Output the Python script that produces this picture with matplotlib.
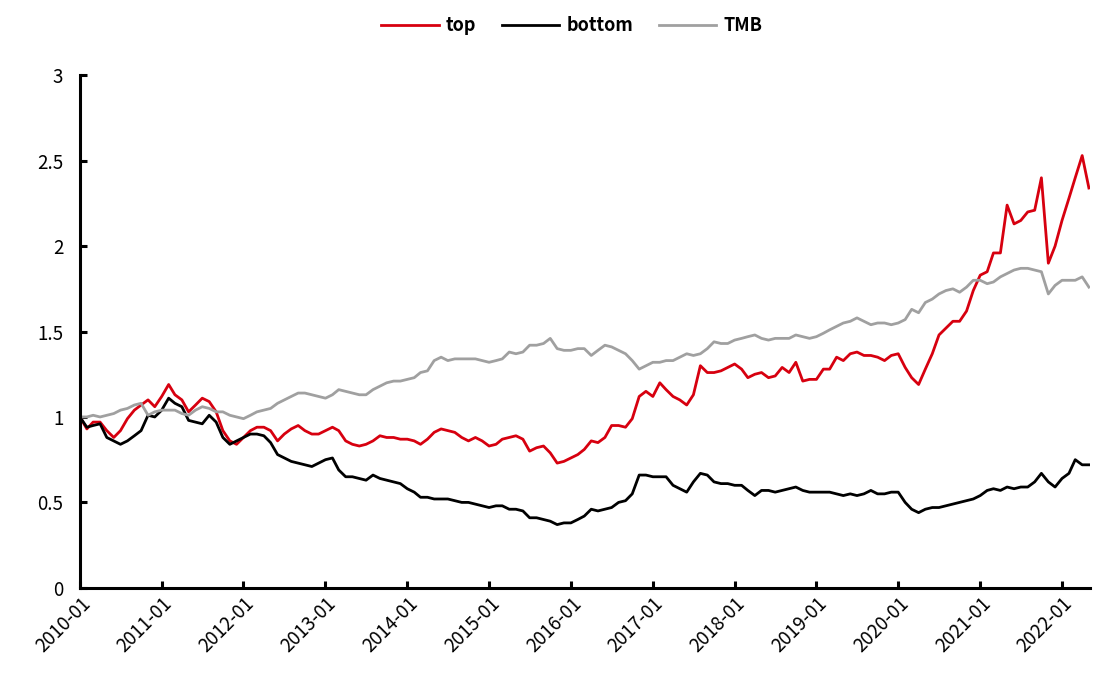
import matplotlib
matplotlib.use("Agg")
import matplotlib.pyplot as plt
import matplotlib.dates as mdates
import pandas as pd

plt.rcParams['font.family'] = ['Noto Sans CJK SC', 'DejaVu Sans']

dates = pd.date_range('2010-01-01', periods=149, freq='MS')

top = [1.00, 0.93, 0.97, 0.97, 0.92, 0.88, 0.92, 0.99, 1.04, 1.07,
       1.10, 1.06, 1.12, 1.19, 1.13, 1.10, 1.03, 1.07, 1.11, 1.09,
       1.03, 0.92, 0.86, 0.84, 0.88, 0.92, 0.94, 0.94, 0.92, 0.86,
       0.90, 0.93, 0.95, 0.92, 0.90, 0.90, 0.92, 0.94, 0.92, 0.86,
       0.84, 0.83, 0.84, 0.86, 0.89, 0.88, 0.88, 0.87, 0.87, 0.86,
       0.84, 0.87, 0.91, 0.93, 0.92, 0.91, 0.88, 0.86, 0.88, 0.86,
       0.83, 0.84, 0.87, 0.88, 0.89, 0.87, 0.80, 0.82, 0.83, 0.79,
       0.73, 0.74, 0.76, 0.78, 0.81, 0.86, 0.85, 0.88, 0.95, 0.95,
       0.94, 0.99, 1.12, 1.15, 1.12, 1.20, 1.16, 1.12, 1.10, 1.07,
       1.13, 1.30, 1.26, 1.26, 1.27, 1.29, 1.31, 1.28, 1.23, 1.25,
       1.26, 1.23, 1.24, 1.29, 1.26, 1.32, 1.21, 1.22, 1.22, 1.28,
       1.28, 1.35, 1.33, 1.37, 1.38, 1.36, 1.36, 1.35, 1.33, 1.36,
       1.37, 1.29, 1.23, 1.19, 1.28, 1.37, 1.48, 1.52, 1.56, 1.56,
       1.62, 1.74, 1.83, 1.85, 1.96, 1.96, 2.24, 2.13, 2.15, 2.20,
       2.21, 2.40, 1.90, 2.00, 2.15, 2.28, 2.40, 2.53, 2.34]

bottom = [1.00, 0.94, 0.95, 0.96, 0.88, 0.86, 0.84, 0.86, 0.89, 0.92,
          1.01, 1.00, 1.04, 1.11, 1.08, 1.06, 0.98, 0.97, 0.96, 1.01,
          0.97, 0.88, 0.84, 0.86, 0.88, 0.90, 0.90, 0.89, 0.85, 0.78,
          0.76, 0.74, 0.73, 0.72, 0.71, 0.73, 0.75, 0.76, 0.69, 0.65,
          0.65, 0.64, 0.63, 0.66, 0.64, 0.63, 0.62, 0.61, 0.58, 0.56,
          0.53, 0.53, 0.52, 0.52, 0.52, 0.51, 0.50, 0.50, 0.49, 0.48,
          0.47, 0.48, 0.48, 0.46, 0.46, 0.45, 0.41, 0.41, 0.40, 0.39,
          0.37, 0.38, 0.38, 0.40, 0.42, 0.46, 0.45, 0.46, 0.47, 0.50,
          0.51, 0.55, 0.66, 0.66, 0.65, 0.65, 0.65, 0.60, 0.58, 0.56,
          0.62, 0.67, 0.66, 0.62, 0.61, 0.61, 0.60, 0.60, 0.57, 0.54,
          0.57, 0.57, 0.56, 0.57, 0.58, 0.59, 0.57, 0.56, 0.56, 0.56,
          0.56, 0.55, 0.54, 0.55, 0.54, 0.55, 0.57, 0.55, 0.55, 0.56,
          0.56, 0.50, 0.46, 0.44, 0.46, 0.47, 0.47, 0.48, 0.49, 0.50,
          0.51, 0.52, 0.54, 0.57, 0.58, 0.57, 0.59, 0.58, 0.59, 0.59,
          0.62, 0.67, 0.62, 0.59, 0.64, 0.67, 0.75, 0.72, 0.72]

tmb = [1.00, 1.00, 1.01, 1.00, 1.01, 1.02, 1.04, 1.05, 1.07, 1.08,
       1.01, 1.03, 1.04, 1.04, 1.04, 1.02, 1.01, 1.04, 1.06, 1.05,
       1.03, 1.03, 1.01, 1.00, 0.99, 1.01, 1.03, 1.04, 1.05, 1.08,
       1.10, 1.12, 1.14, 1.14, 1.13, 1.12, 1.11, 1.13, 1.16, 1.15,
       1.14, 1.13, 1.13, 1.16, 1.18, 1.20, 1.21, 1.21, 1.22, 1.23,
       1.26, 1.27, 1.33, 1.35, 1.33, 1.34, 1.34, 1.34, 1.34, 1.33,
       1.32, 1.33, 1.34, 1.38, 1.37, 1.38, 1.42, 1.42, 1.43, 1.46,
       1.40, 1.39, 1.39, 1.40, 1.40, 1.36, 1.39, 1.42, 1.41, 1.39,
       1.37, 1.33, 1.28, 1.30, 1.32, 1.32, 1.33, 1.33, 1.35, 1.37,
       1.36, 1.37, 1.40, 1.44, 1.43, 1.43, 1.45, 1.46, 1.47, 1.48,
       1.46, 1.45, 1.46, 1.46, 1.46, 1.48, 1.47, 1.46, 1.47, 1.49,
       1.51, 1.53, 1.55, 1.56, 1.58, 1.56, 1.54, 1.55, 1.55, 1.54,
       1.55, 1.57, 1.63, 1.61, 1.67, 1.69, 1.72, 1.74, 1.75, 1.73,
       1.76, 1.80, 1.80, 1.78, 1.79, 1.82, 1.84, 1.86, 1.87, 1.87,
       1.86, 1.85, 1.72, 1.77, 1.80, 1.80, 1.80, 1.82, 1.76]

y_ticks = [0, 0.5, 1, 1.5, 2, 2.5, 3]
y_tick_labels = ['0', '0.5', '1', '1.5', '2', '2.5', '3']

fig = plt.figure(figsize=(11.1, 6.78), dpi=100)
ax = fig.add_axes([0.072, 0.133, 0.910, 0.756])

ax.plot(dates, top, color='#d7000f', lw=2.0, label='top')
ax.plot(dates, bottom, color='#000000', lw=2.0, label='bottom')
ax.plot(dates, tmb, color='#a0a0a0', lw=2.0, label='TMB')

ax.set_ylim(0, 3)
ax.set_yticks(y_ticks)
ax.set_yticklabels(y_tick_labels)
ax.set_xlim(pd.Timestamp('2010-01-01'), pd.Timestamp('2022-05-06'))
ax.xaxis.set_major_locator(mdates.YearLocator(month=1, day=1))
ax.xaxis.set_major_formatter(mdates.DateFormatter('%Y-%m'))

for s in ['top', 'right']:
    ax.spines[s].set_visible(False)
for s in ['left', 'bottom']:
    ax.spines[s].set_linewidth(2.2)
ax.tick_params(axis='both', direction='in', length=5, width=2.2, labelsize=13.5)
ax.tick_params(axis='y', pad=12)
ax.tick_params(axis='x', pad=4)
plt.setp(ax.get_xticklabels(), rotation=45, ha='right', rotation_mode='anchor')

leg = fig.legend(loc='upper center', bbox_to_anchor=(0.515, 1.0), ncol=3, frameon=False,
                 prop={'weight': 'bold', 'size': 13}, handlelength=3.2,
                 handletextpad=0.4, columnspacing=1.4)

fig.savefig('out.png', dpi=100)
